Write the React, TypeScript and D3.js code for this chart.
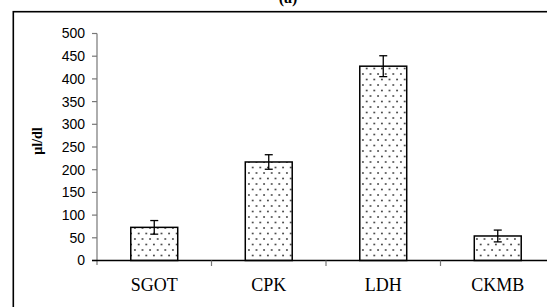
import React from "react";
import * as d3 from "d3";

const categories = ["SGOT", "CPK", "LDH", "CKMB"];
const means = [73, 217, 428, 54];
const errors = [15, 16, 23, 13];
const yTicks = [0, 50, 100, 150, 200, 250, 300, 350, 400, 450, 500];
const yLabel = "µl/dl";
const title = "(a)";

export default function App() {
  const W = 547, H = 307;
  const x0 = 97, x1 = 555;
  const y = d3.scaleLinear().domain([0, 500]).range([260.5, 33.5]);
  const x = d3.scaleBand<string>().domain(categories).range([x0, x1]).padding(0);
  const bw = x.bandwidth() * 0.41;
  const boundaries = categories.slice(1).map((c) => x(c)!);
  const cap = 4;
  return (
    <div style={{ position: "absolute", left: 0, top: 0 }}>
      <svg width={W} height={H} style={{ display: "block", background: "#fff" }}>
        <defs>
          <pattern id="dots" width={7.6} height={11} patternUnits="userSpaceOnUse">
            <rect width={7.6} height={11} fill="#fff" />
            <circle cx={1.9} cy={2.5} r={0.9} fill="#333" />
            <circle cx={5.7} cy={8} r={0.9} fill="#333" />
          </pattern>
        </defs>
        <rect x={13.3} y={11.7} width={560} height={320} fill="none" stroke="#000" strokeWidth={1.6} />
        <text x={288} y={3} textAnchor="middle" fontFamily="Liberation Serif" fontSize={16} fontWeight="bold">{title}</text>
        <line x1={x0} x2={x0} y1={y(500)} y2={265} stroke="#777" strokeWidth={1.2} />
        {yTicks.map((t) => (
          <g key={t}>
            <line x1={x0 - 5} x2={x0} y1={y(t)} y2={y(t)} stroke="#777" strokeWidth={1.2} />
            <text x={85} y={y(t)} dy="0.35em" textAnchor="end" fontFamily="Liberation Sans" fontSize={14} fill="#000">{t}</text>
          </g>
        ))}
        <text transform="translate(42,141) rotate(-90)" textAnchor="middle" fontFamily="Liberation Serif" fontWeight="bold" fontSize={14}>{yLabel}</text>
        {categories.map((c, i) => {
          const cx = x(c)! + x.bandwidth() / 2;
          return (
            <g key={c}>
              <rect x={cx - bw / 2} y={y(means[i])} width={bw} height={y(0) - y(means[i])} fill="url(#dots)" stroke="#000" strokeWidth={1.5} />
              <line x1={cx} x2={cx} y1={y(means[i] + errors[i])} y2={y(means[i] - errors[i])} stroke="#000" strokeWidth={1.3} />
              <line x1={cx - cap} x2={cx + cap} y1={y(means[i] + errors[i])} y2={y(means[i] + errors[i])} stroke="#000" strokeWidth={1.3} />
              <line x1={cx - cap} x2={cx + cap} y1={y(means[i] - errors[i])} y2={y(means[i] - errors[i])} stroke="#000" strokeWidth={1.3} />
              <text x={cx} y={291} textAnchor="middle" fontFamily="Liberation Serif" fontSize={18}>{c}</text>
            </g>
          );
        })}
        <line x1={x0 - 5} x2={W} y1={y(0)} y2={y(0)} stroke="#000" strokeWidth={1.3} />
        {boundaries.map((b, i) => (
          <line key={i} x1={b} x2={b} y1={y(0)} y2={y(0) + 5.5} stroke="#777" strokeWidth={1.2} />
        ))}
      </svg>
    </div>
  );
}
